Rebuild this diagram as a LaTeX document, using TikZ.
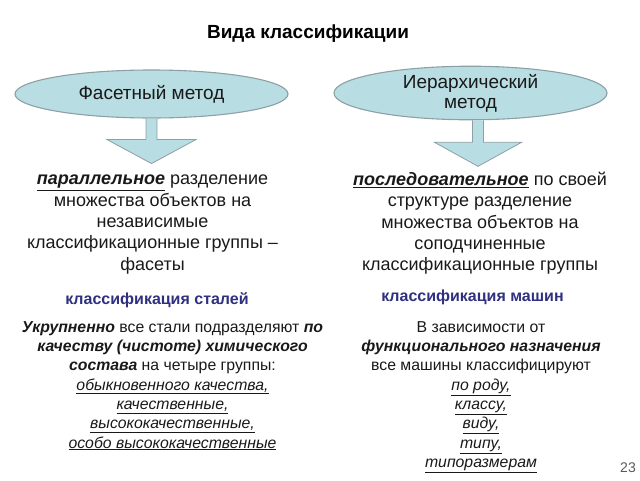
\documentclass[tikz,border=0pt]{standalone}
\usepackage{fontspec}
\setmainfont{Liberation Sans}
\usetikzlibrary{shapes.geometric,calc}
\definecolor{ellfill}{RGB}{184,221,226}
\definecolor{ellline}{RGB}{140,160,166}
\definecolor{txt}{RGB}{25,25,25}
\definecolor{navy}{RGB}{48,48,128}
\definecolor{pgnum}{RGB}{90,90,90}
\tikzset{
  method/.style={ellipse, draw=ellline, line width=1.1pt, fill=ellfill, inner sep=0pt,
    minimum width=273pt, minimum height=48pt, align=center, text=txt,
    font=\fontsize{19}{20}\selectfont},
  blockarrow/.style={draw=ellline, line width=0.8pt, fill=ellfill, line join=miter},
  bigtext/.style={anchor=north, inner sep=0pt, align=center, text=txt,
    font=\fontsize{18}{21.3}\selectfont},
  smalltext/.style={anchor=north, inner sep=0pt, align=center, text=txt,
    font=\fontsize{15.8}{19.3}\selectfont},
  label/.style={anchor=base, inner sep=0pt, text=navy,
    font=\fontsize{16}{18}\selectfont\bfseries},
}
\newcommand{\ubi}[1]{\underline{{\bfseries\itshape #1}}}
\newcommand{\ui}[1]{\underline{{\itshape #1}}}
\newcommand{\bi}[1]{{\bfseries\itshape #1}}
\begin{document}
\begin{tikzpicture}[x=1pt,y=-1pt]
\useasboundingbox (0,0) rectangle (640,480);
\node[anchor=base, inner sep=0pt, font=\fontsize{19}{22}\selectfont\bfseries] (title) at (308,38.5) {Вида классификации};

\node[method] (facet) at (151.5,94) {Фасетный метод};
\node[method] (hier) at (470.5,93) {Иерархический\\метод};

% block arrows
\draw[blockarrow] ($(facet.south)+(-5.5,0)$) coordinate (fa1) -- ++(0,21) -- ++(-39,0) -- ++(44.5,24) coordinate (ftip) -- ++(44.5,-24) -- ++(-39,0) -- ++(0,-21);
\draw[blockarrow] ($(hier.south)+(2,0)$) -- ++(0,22) -- ++(-38,0) -- ++(43.5,24) -- ++(43.5,-24) -- ++(-38,0) -- ++(0,-22);

\node[bigtext] (ltext) at (152.5,169.8) {\strut\ubi{параллельное} разделение\\множества объектов на\\независимые\\классификационные группы –\\фасеты};
\node[bigtext] (rtext) at (480,170.5) {\strut\ubi{последовательное} по своей\\структуре разделение\\множества объектов на\\соподчиненные\\классификационные группы};

\node[label] (lsteel) at (157,304.2) {классификация сталей};
\node[label] (lmach) at (472.5,301.2) {классификация машин};

\node[smalltext] (lbottom) at (172.5,318.6) {\strut\bi{Укрупненно} все стали подразделяют \bi{по}\\\bi{качеству (чистоте) химического}\\\bi{состава} на четыре группы:\\\ui{обыкновенного качества,}\\\ui{качественные,}\\\ui{высококачественные,}\\\ui{особо высококачественные}};
\node[smalltext] (rbottom) at (481,318.6) {\strut В зависимости от\\\bi{функционального назначения}\\все машины классифицируют\\\ui{по роду,}\\\ui{классу,}\\\ui{виду,}\\\ui{типу,}\\\ui{типоразмерам}};

\node[anchor=base, inner sep=0pt, text=pgnum, font=\fontsize{14}{16}\selectfont] (page) at (628,472) {23};
\end{tikzpicture}
\end{document}
